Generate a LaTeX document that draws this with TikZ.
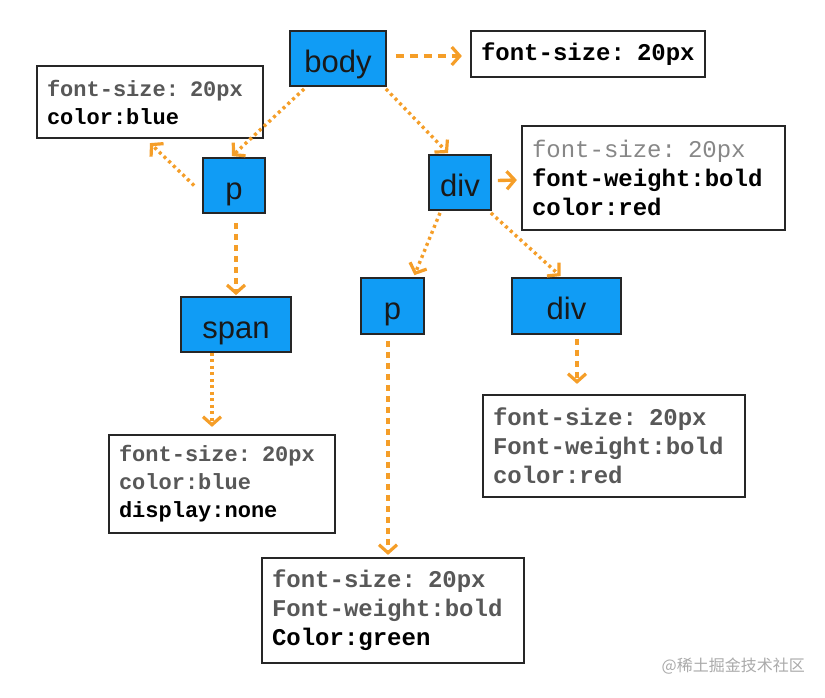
\documentclass[tikz,border=0pt]{standalone}
\usepackage{fontspec}
\setmonofont{Liberation Mono}
\newfontfamily\helv{Liberation Sans}
\newfontfamily\cjk{Noto Sans CJK SC}
\usetikzlibrary{arrows.meta,calc}
\definecolor{nodeblue}{RGB}{16,156,245}
\definecolor{arrorange}{RGB}{245,158,40}
\definecolor{txtgray}{RGB}{88,88,88}
\definecolor{txtlight}{RGB}{135,135,135}
\definecolor{wmgray}{RGB}{170,170,170}
\begin{document}
\begin{tikzpicture}[x=1pt,y=-1pt,
 elem/.style={draw=black!85, line width=1.8pt, fill=nodeblue, inner sep=0pt, text height=27pt, text depth=0pt, font=\helv\fontsize{31}{36}\selectfont, text=black!90},
 cssbox/.style={draw=black!85, line width=2.2pt, fill=white, inner xsep=10pt, inner ysep=0pt, align=left, font=\ttfamily\bfseries\fontsize{24}{29}\selectfont},
 smallcss/.style={cssbox, font=\ttfamily\bfseries\fontsize{22}{28}\selectfont},
 link/.style={draw=arrorange, line width=3.4pt, -{Straight Barb[length=8pt,width=18pt,line width=3.2pt]}},
 dotline/.style={link, dash pattern=on 3pt off 3.5pt},
 dashline/.style={link, dash pattern=on 7pt off 5pt},
]
\useasboundingbox[fill=white] (0,0) rectangle (825,697);

% element nodes
\node[elem, minimum width=96pt, minimum height=55pt] (body) at (338,58.5) {body};
\node[elem, minimum width=62pt, minimum height=55pt] (p) at (234,185.5) {p};
\node[elem, minimum width=62pt, minimum height=55pt] (div) at (460,182.5) {div};
\node[elem, minimum width=110pt, minimum height=55pt] (span) at (236,324.5) {span};
\node[elem, minimum width=63pt, minimum height=56pt] (p2) at (392.5,306) {p};
\node[elem, minimum width=109pt, minimum height=56pt] (div2) at (566.5,306) {div};

% css boxes
\node[cssbox, text width=214pt, minimum height=46pt] (bodybox) at (588,54) {font-size: 20px};
\node[smallcss, text width=206pt, minimum height=72pt] (pbox) at (150,102)
  {{\color{txtgray}font-size: 20px}\\color:blue};
\node[cssbox, text width=243pt, minimum height=104pt] (divbox) at (653.5,178)
  {{\mdseries\color{txtlight}font-size: 20px}\\font-weight:bold\\color:red};
\node[smallcss, text width=206pt, minimum height=98pt] (spanbox) at (222,484)
  {{\color{txtgray}font-size: 20px}\\{\color{txtgray}color:blue}\\display:none};
\node[cssbox, text width=242pt, minimum height=102pt, text=txtgray] (div2box) at (614,446)
  {font-size: 20px\\Font-weight:bold\\color:red};
\node[cssbox, text width=242pt, minimum height=105pt] (p2box) at (393,610.5)
  {{\color{txtgray}font-size: 20px}\\{\color{txtgray}Font-weight:bold}\\Color:green};

% connectors
\draw[dashline, dash pattern=on 8pt off 6pt] ($(body.east)+(9,-2.5)$) -- ($(bodybox.west)+(-8,2)$);
\draw[dotline] ($(body.south west)+(15,2)$) -- ($(p.north)+(-2,-1)$);
\draw[dotline] ($(p.west)+(-8,0)$) -- ($(pbox.south)+(0,4)$);
\draw[dotline] ($(body.south east)+(-1,2)$) -- ($(div.north)+(-12,-1)$);
\draw[link] ($(div.east)+(6,-2)$) -- ($(divbox.west)+(-4,2)$);
\draw[dashline, dash pattern=on 6pt off 5pt] ($(p.south)+(2,9)$) -- ($(span.north)+(0,-1)$);
\draw[dotline] ($(span.south)+(-24,0)$) -- ($(spanbox.north)+(-10,-7)$);
\draw[dotline] ($(div.south)+(-20,2)$) -- ($(p2.north)+(22,-2)$);
\draw[dotline] ($(div.south east)+(-1,2)$) -- ($(div2.north)+(-6,-1)$);
\draw[dashline, dash pattern=on 6pt off 5pt] ($(div2.south)+(10.5,4)$) -- ($(div2box.north)+(-37,-10)$);
\draw[dashline, dash pattern=on 6pt off 5pt] ($(p2.south)+(-4.5,6)$) -- ($(p2box.north)+(-5,-2)$);

% watermark
\node[anchor=east, text=wmgray, font=\cjk\fontsize{16}{18}\selectfont, inner sep=0pt] (wm) at (805,666) {@稀土掘金技术社区};
\end{tikzpicture}
\end{document}
